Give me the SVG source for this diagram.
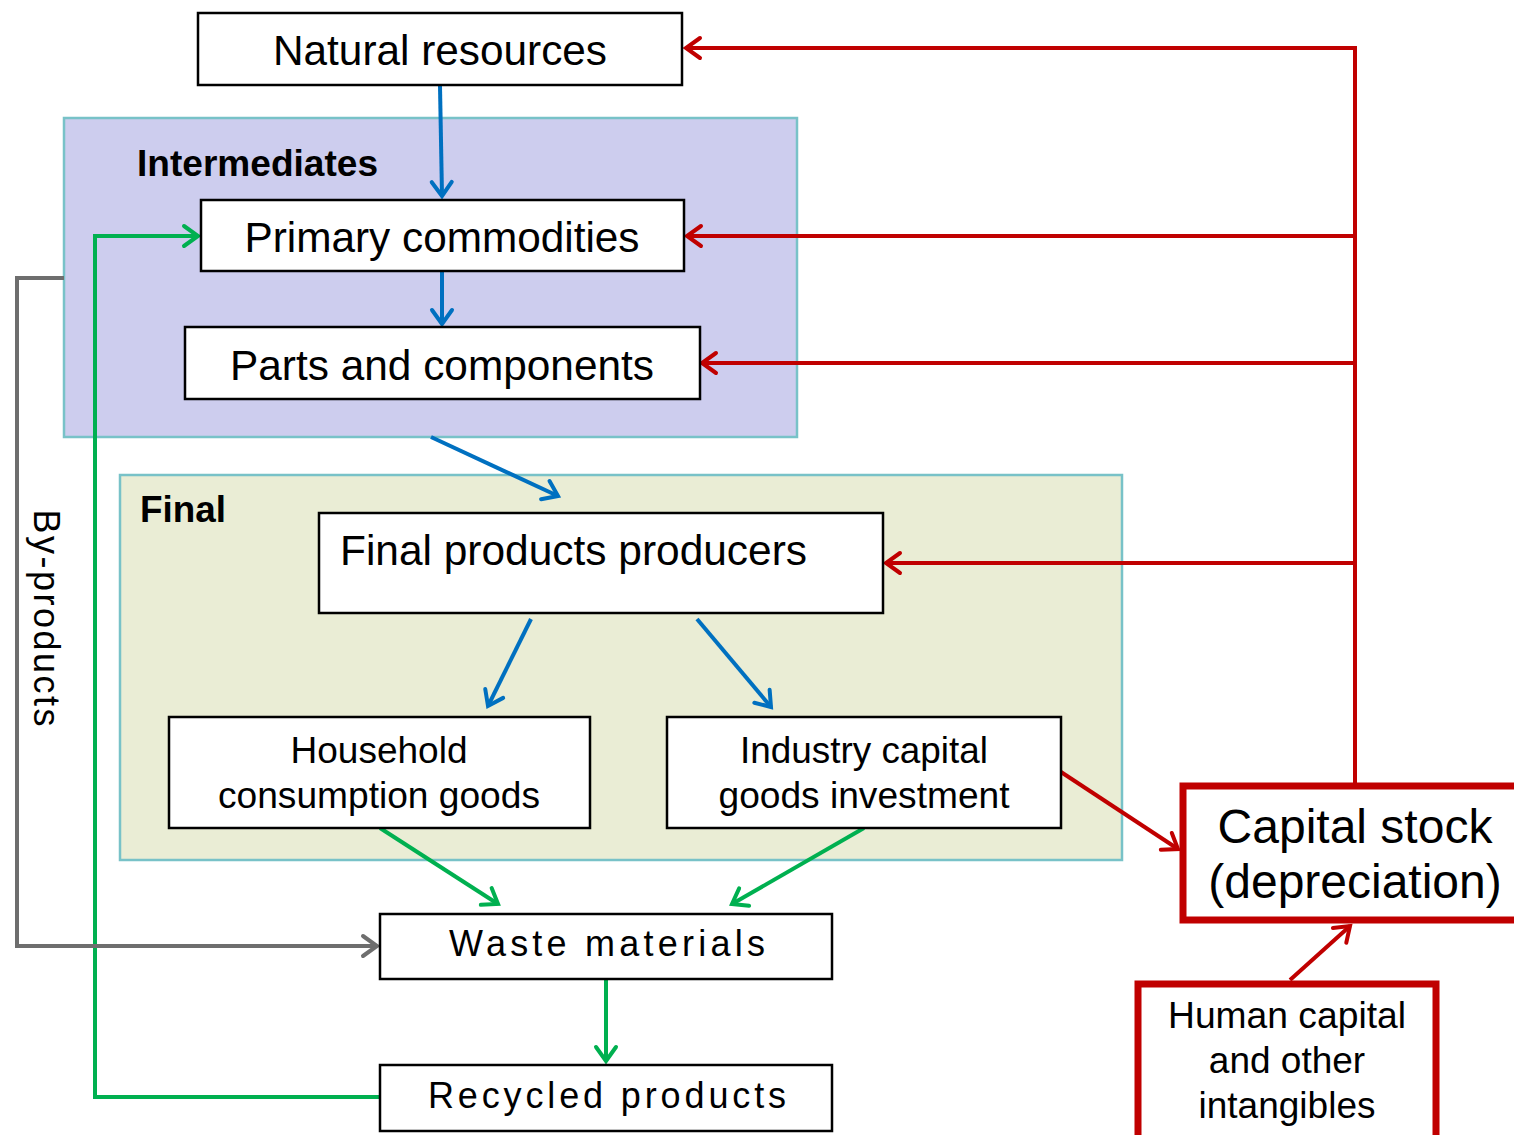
<svg xmlns="http://www.w3.org/2000/svg" width="1514" height="1135" viewBox="0 0 1514 1135">
<defs>
<style>
.box{fill:#fff;stroke:#000;stroke-width:2.5}
.panel{stroke:#78C2C8;stroke-width:2.5}
.t{font-family:"Liberation Sans",Arial,sans-serif;fill:#000;text-anchor:middle}
.c{fill:none;stroke-width:4;stroke-linejoin:miter}
.blue{stroke:#0070C0}
.green{stroke:#00B050}
.red{stroke:#C00000}
.gray{stroke:#6E6E6E}
</style>
<marker id="ab" viewBox="-20 -14 24 28" markerWidth="24" markerHeight="28" refX="0" refY="0" orient="auto" markerUnits="userSpaceOnUse"><path d="M-14,-10 L0,0 L-14,10" fill="none" stroke="#0070C0" stroke-width="4" stroke-linecap="round"/></marker>
<marker id="ag" viewBox="-20 -14 24 28" markerWidth="24" markerHeight="28" refX="0" refY="0" orient="auto" markerUnits="userSpaceOnUse"><path d="M-14,-10 L0,0 L-14,10" fill="none" stroke="#00B050" stroke-width="4" stroke-linecap="round"/></marker>
<marker id="ar" viewBox="-20 -14 24 28" markerWidth="24" markerHeight="28" refX="0" refY="0" orient="auto" markerUnits="userSpaceOnUse"><path d="M-14,-10 L0,0 L-14,10" fill="none" stroke="#C00000" stroke-width="4" stroke-linecap="round"/></marker>
<marker id="agy" viewBox="-20 -14 24 28" markerWidth="24" markerHeight="28" refX="0" refY="0" orient="auto" markerUnits="userSpaceOnUse"><path d="M-14,-10 L0,0 L-14,10" fill="none" stroke="#6E6E6E" stroke-width="4" stroke-linecap="round"/></marker>
</defs>
<rect width="1514" height="1135" fill="#fff"/>

<g id="panel-intermediates">
<rect class="panel" x="64" y="118" width="733" height="319" fill="#CDCDEE"/>
<text class="t" x="137" y="176" font-size="36" font-weight="bold" style="text-anchor:start" textLength="241" lengthAdjust="spacingAndGlyphs">Intermediates</text>
</g>
<g id="panel-final">
<rect class="panel" x="120" y="475" width="1002" height="385" fill="#EAEDD5"/>
<text class="t" x="140" y="522" font-size="36" font-weight="bold" style="text-anchor:start" textLength="86" lengthAdjust="spacingAndGlyphs">Final</text>
</g>

<g id="connectors">
<path class="c blue" d="M440,86 L442,196" marker-end="url(#ab)"/>
<path class="c blue" d="M442,272 L442,324" marker-end="url(#ab)"/>
<path class="c blue" d="M431,437 L558,496" marker-end="url(#ab)"/>
<path class="c blue" d="M531,619 L488,706" marker-end="url(#ab)"/>
<path class="c blue" d="M697,619 L771,707" marker-end="url(#ab)"/>
<path class="c green" d="M380,828 L498,904" marker-end="url(#ag)"/>
<path class="c green" d="M864,828 L732,904" marker-end="url(#ag)"/>
<path class="c green" d="M606,980 L606,1061" marker-end="url(#ag)"/>
<path class="c green" d="M380,1097 L95,1097 L95,236 L198,236" marker-end="url(#ag)"/>
<path class="c gray" d="M64,278 L17,278 L17,946 L377,946" marker-end="url(#agy)"/>
<path class="c red" d="M1355,783 L1355,48 L686,48" marker-end="url(#ar)"/>
<path class="c red" d="M1355,236 L687,236" marker-end="url(#ar)"/>
<path class="c red" d="M1355,363 L702,363" marker-end="url(#ar)"/>
<path class="c red" d="M1355,563 L886,563" marker-end="url(#ar)"/>
<path class="c red" d="M1061,772 L1178,849" marker-end="url(#ar)"/>
<path class="c red" d="M1290,980 L1350,926" marker-end="url(#ar)"/>
</g>

<g id="node-natural">
<rect class="box" x="198" y="13" width="484" height="72"/>
<text class="t" x="440" y="65" font-size="42" textLength="334" lengthAdjust="spacingAndGlyphs">Natural resources</text>
</g>
<g id="node-primary">
<rect class="box" x="201" y="200" width="483" height="71"/>
<text class="t" x="442" y="252" font-size="42" textLength="395" lengthAdjust="spacingAndGlyphs">Primary commodities</text>
</g>
<g id="node-parts">
<rect class="box" x="185" y="327" width="515" height="72"/>
<text class="t" x="442" y="380" font-size="42" textLength="424" lengthAdjust="spacingAndGlyphs">Parts and components</text>
</g>
<g id="node-finalproducers">
<rect class="box" x="319" y="513" width="564" height="100"/>
<text class="t" x="340" y="565" font-size="42" style="text-anchor:start" textLength="467" lengthAdjust="spacingAndGlyphs">Final products producers</text>
</g>
<g id="node-household">
<rect class="box" x="169" y="717" width="421" height="111"/>
<text class="t" x="379" y="763" font-size="36" textLength="177" lengthAdjust="spacingAndGlyphs">Household</text>
<text class="t" x="379" y="808" font-size="36" textLength="322" lengthAdjust="spacingAndGlyphs">consumption goods</text>
</g>
<g id="node-industry">
<rect class="box" x="667" y="717" width="394" height="111"/>
<text class="t" x="864" y="763" font-size="36" textLength="248" lengthAdjust="spacingAndGlyphs">Industry capital</text>
<text class="t" x="864" y="808" font-size="36" textLength="291" lengthAdjust="spacingAndGlyphs">goods investment</text>
</g>
<g id="node-waste">
<rect class="box" x="380" y="914" width="452" height="65"/>
<text class="t" x="607" y="956" font-size="36" textLength="316" lengthAdjust="spacing">Waste materials</text>
</g>
<g id="node-recycled">
<rect class="box" x="380" y="1065" width="452" height="66"/>
<text class="t" x="607" y="1108" font-size="36" textLength="358" lengthAdjust="spacing">Recycled products</text>
</g>
<g id="label-byproducts">
<text class="t" x="0" y="0" font-size="36" transform="translate(34,618) rotate(90)" textLength="217" lengthAdjust="spacing">By-products</text>
</g>
<g id="node-capital">
<rect x="1183" y="786" width="340" height="134" fill="#fff" stroke="#C00000" stroke-width="7"/>
<text class="t" x="1355" y="843" font-size="48">Capital stock</text>
<text class="t" x="1355" y="898" font-size="48">(depreciation)</text>
</g>
<g id="node-human">
<rect x="1138" y="984" width="298" height="160" fill="#fff" stroke="#C00000" stroke-width="7"/>
<text class="t" x="1287" y="1028" font-size="37" textLength="238" lengthAdjust="spacingAndGlyphs">Human capital</text>
<text class="t" x="1287" y="1073" font-size="37">and other</text>
<text class="t" x="1287" y="1118" font-size="37">intangibles</text>
</g>
</svg>
